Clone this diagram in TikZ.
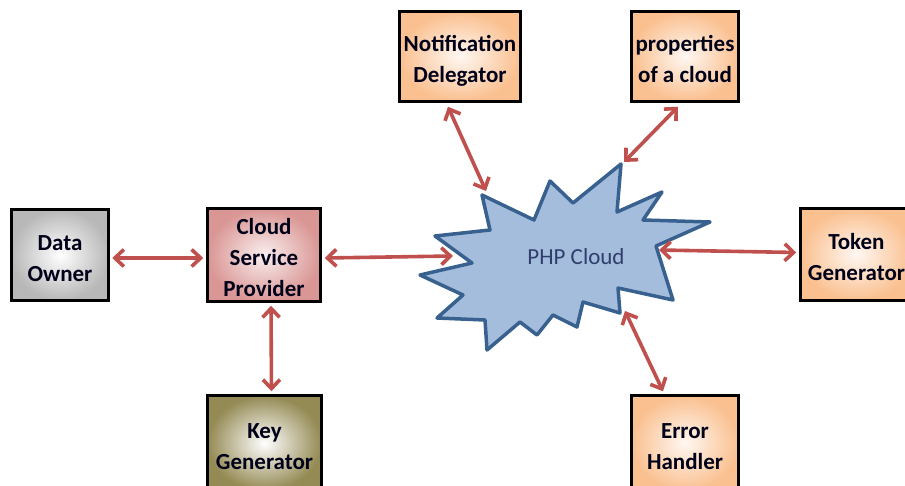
\documentclass[tikz,border=0pt]{standalone}
\usepackage{fontspec}
\setmainfont{Carlito}
\usetikzlibrary{arrows.meta,calc}
\definecolor{arrowred}{HTML}{C0504D}
\definecolor{grayc}{HTML}{B8B8B8}
\definecolor{pinkc}{HTML}{D99694}
\definecolor{olivec}{HTML}{948A54}
\definecolor{orangec}{HTML}{FAC090}
\definecolor{cloudfill}{HTML}{A5BDDD}
\definecolor{cloudline}{HTML}{38618F}
\definecolor{phptext}{HTML}{2F3E6A}
\newcommand\boxlines[1]{\raisebox{-4.5pt}[\height][\depth]{\begin{tabular}{@{}c@{}}#1\end{tabular}}}
\begin{document}
\begin{tikzpicture}[x=1pt,y=-1pt,
  box/.style={draw=black,line width=3.5pt,align=center,inner sep=0pt,
    font=\fontsize{23}{31}\selectfont\bfseries,text=black!90!blue},
  graybox/.style={box,inner color=white,outer color=grayc},
  pinkbox/.style={box,inner color=pinkc!15,outer color=pinkc},
  olivebox/.style={box,inner color=white,outer color=olivec},
  orangebox/.style={box,inner color=orangec!12,outer color=orangec},
  biarrow/.style={draw=arrowred,line width=3.6pt,line cap=round,
    {Straight Barb[length=9pt,width=17pt,line join=miter]}-{Straight Barb[length=9pt,width=17pt,line join=miter]}},
  cloudshape/.style={fill=cloudfill,draw=cloudline,line width=3.5pt,line join=round}]
\useasboundingbox (0,0) rectangle (905,486);
\clip (0,0) rectangle (905,486);
\fill[white] (0,0) rectangle (905,486);

% boxes
\node[graybox,minimum width=97pt,minimum height=91pt] (do) at (60,255) {\boxlines{Data\\Owner}};
\node[pinkbox,minimum width=113pt,minimum height=91pt] (csp) at (264,255) {\boxlines{Cloud\\Service\\Provider}};
\node[olivebox,minimum width=114pt,minimum height=95pt] (key) at (264.5,443) {\boxlines{Key\\Generator}};
\node[orangebox,minimum width=121pt,minimum height=90pt] (nd) at (460,56.5) {\boxlines{Notification\\Delegator}};
\node[orangebox,minimum width=107pt,minimum height=90pt] (pc) at (685,56.5) {\boxlines{properties\\of a cloud}};
\node[orangebox,minimum width=112pt,minimum height=92pt] (tg) at (856.5,254.5) {\boxlines{Token\\Generator}};
\node[orangebox,minimum width=107pt,minimum height=95pt] (eh) at (685,443) {\boxlines{Error\\Handler}};

% cloud
\draw[cloudshape] (482,195) -- (534,220) -- (550,181) -- (573,203) -- (621,164)
  -- (617,212) -- (662,192) -- (643,220) -- (710,222) -- (656,246) -- (673,300)
  -- (618,288) -- (620,313) -- (583,302) -- (577,327) -- (553,315) -- (537,335)
  -- (520,322) -- (487,350) -- (485,320) -- (437,318) -- (463,295) -- (420,275)
  -- (472,263) -- (435,236) -- (490,230) -- cycle;
\node[font=\fontsize{23}{26}\selectfont,text=phptext] (php) at (576,257) {PHP Cloud};

% cloud connection points
\coordinate (cW) at (453,256);
\coordinate (cNW) at (486,191);
\coordinate (cNE) at (624,162);
\coordinate (cE) at (659,250);
\coordinate (cSE) at (625,311);

% connectors
\draw[biarrow] ($(do.east)+(2,3)$) -- ($(csp.west)+(-2.5,3)$);
\draw[biarrow] ($(csp.east)+(2.5,3)$) -- (cW);
\draw[biarrow] ($(csp.south)+(7,2.5)$) -- ($(key.north)+(7,-2.5)$);
\draw[biarrow] ($(nd.south)+(-12,3.5)$) -- (cNW);
\draw[biarrow] ($(pc.south)+(-7,3.5)$) -- (cNE);
\draw[biarrow] (cE) -- ($(tg.west)+(-2.5,-2)$);
\draw[biarrow] (cSE) -- ($(eh.north)+(-22,-2.5)$);
\end{tikzpicture}
\end{document}
